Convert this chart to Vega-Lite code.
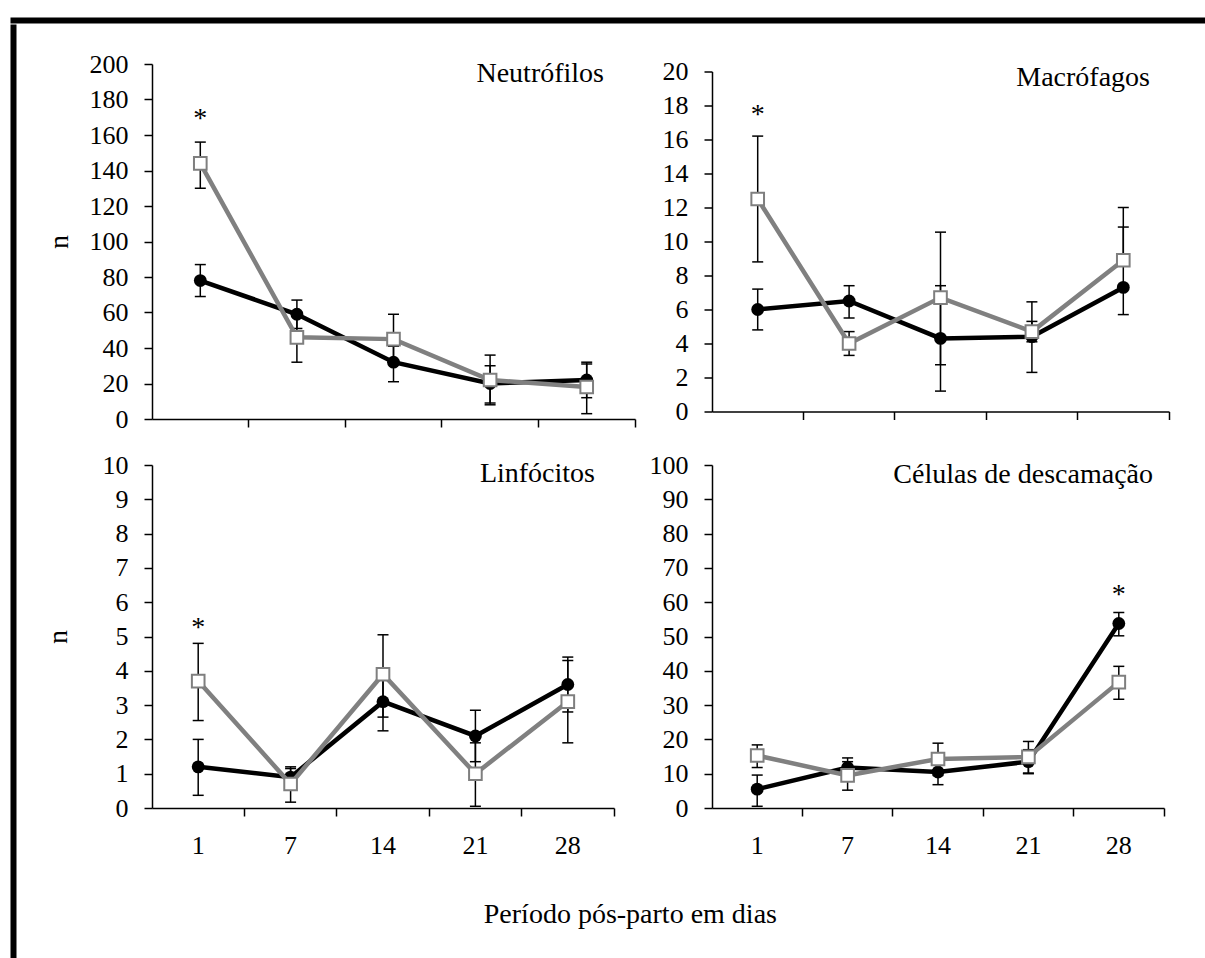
{
  "$schema": "https://vega.github.io/schema/vega-lite/v6.json",
  "background": "white",
  "padding": {"left": 10, "top": 17, "right": 0, "bottom": 0},
  "config": {
    "view": {"stroke": null},
    "font": "Liberation Serif",
    "axis": {"domainColor": "black", "domainWidth": 1.5, "tickColor": "black", "tickWidth": 1.5, "tickSize": 8, "labelFont": "Liberation Serif", "labelFontSize": 26, "labelColor": "black", "labelPadding": 16, "grid": false, "titleFont": "Liberation Serif", "titleFontSize": 28, "titleFontWeight": "normal", "titleColor": "black", "labelOverlap": false},
    "title": {"font": "Liberation Serif", "fontWeight": "normal", "color": "black", "fontSize": 28}
  },
  "datasets": {
    "medidas": [
      {"painel": "Neutrófilos", "grupo": "A", "dia": 1, "media": 78, "inf": 69, "sup": 87},
      {"painel": "Neutrófilos", "grupo": "A", "dia": 7, "media": 59, "inf": 51, "sup": 67},
      {"painel": "Neutrófilos", "grupo": "A", "dia": 14, "media": 32, "inf": 21, "sup": 41},
      {"painel": "Neutrófilos", "grupo": "A", "dia": 21, "media": 20, "inf": 9, "sup": 30},
      {"painel": "Neutrófilos", "grupo": "A", "dia": 28, "media": 22, "inf": 12, "sup": 31},
      {"painel": "Neutrófilos", "grupo": "B", "dia": 1, "media": 144, "inf": 130, "sup": 156},
      {"painel": "Neutrófilos", "grupo": "B", "dia": 7, "media": 46, "inf": 32, "sup": 60},
      {"painel": "Neutrófilos", "grupo": "B", "dia": 14, "media": 45, "inf": 31, "sup": 59},
      {"painel": "Neutrófilos", "grupo": "B", "dia": 21, "media": 22, "inf": 8, "sup": 36},
      {"painel": "Neutrófilos", "grupo": "B", "dia": 28, "media": 18, "inf": 3, "sup": 32},
      {"painel": "Macrófagos", "grupo": "A", "dia": 1, "media": 6.0, "inf": 4.8, "sup": 7.2},
      {"painel": "Macrófagos", "grupo": "A", "dia": 7, "media": 6.5, "inf": 5.5, "sup": 7.4},
      {"painel": "Macrófagos", "grupo": "A", "dia": 14, "media": 4.3, "inf": 1.2, "sup": 7.4},
      {"painel": "Macrófagos", "grupo": "A", "dia": 21, "media": 4.4, "inf": 2.3, "sup": 6.45},
      {"painel": "Macrófagos", "grupo": "A", "dia": 28, "media": 7.3, "inf": 5.7, "sup": 10.85},
      {"painel": "Macrófagos", "grupo": "B", "dia": 1, "media": 12.5, "inf": 8.8, "sup": 16.2},
      {"painel": "Macrófagos", "grupo": "B", "dia": 7, "media": 4.0, "inf": 3.3, "sup": 4.7},
      {"painel": "Macrófagos", "grupo": "B", "dia": 14, "media": 6.7, "inf": 2.75, "sup": 10.55},
      {"painel": "Macrófagos", "grupo": "B", "dia": 21, "media": 4.7, "inf": 4.1, "sup": 5.3},
      {"painel": "Macrófagos", "grupo": "B", "dia": 28, "media": 8.9, "inf": 8.9, "sup": 12.0},
      {"painel": "Linfócitos", "grupo": "A", "dia": 1, "media": 1.2, "inf": 0.37, "sup": 2.0},
      {"painel": "Linfócitos", "grupo": "A", "dia": 7, "media": 0.9, "inf": 0.6, "sup": 1.2},
      {"painel": "Linfócitos", "grupo": "A", "dia": 14, "media": 3.1, "inf": 2.25, "sup": 3.95},
      {"painel": "Linfócitos", "grupo": "A", "dia": 21, "media": 2.1, "inf": 1.35, "sup": 2.85},
      {"painel": "Linfócitos", "grupo": "A", "dia": 28, "media": 3.6, "inf": 2.8, "sup": 4.4},
      {"painel": "Linfócitos", "grupo": "B", "dia": 1, "media": 3.7, "inf": 2.55, "sup": 4.8},
      {"painel": "Linfócitos", "grupo": "B", "dia": 7, "media": 0.7, "inf": 0.17, "sup": 1.15},
      {"painel": "Linfócitos", "grupo": "B", "dia": 14, "media": 3.9, "inf": 2.65, "sup": 5.05},
      {"painel": "Linfócitos", "grupo": "B", "dia": 21, "media": 1.0, "inf": 0.05, "sup": 1.9},
      {"painel": "Linfócitos", "grupo": "B", "dia": 28, "media": 3.1, "inf": 1.9, "sup": 4.3},
      {"painel": "Células", "grupo": "A", "dia": 1, "media": 5.5, "inf": 0.5, "sup": 9.6},
      {"painel": "Células", "grupo": "A", "dia": 7, "media": 11.8, "inf": 9.0, "sup": 14.6},
      {"painel": "Células", "grupo": "A", "dia": 14, "media": 10.5, "inf": 6.8, "sup": 14.0},
      {"painel": "Células", "grupo": "A", "dia": 21, "media": 13.5, "inf": 10.0, "sup": 17.0},
      {"painel": "Células", "grupo": "A", "dia": 28, "media": 53.8, "inf": 50.2, "sup": 57.0},
      {"painel": "Células", "grupo": "B", "dia": 1, "media": 15.3, "inf": 11.8, "sup": 18.4},
      {"painel": "Células", "grupo": "B", "dia": 7, "media": 9.5, "inf": 5.2, "sup": 13.5},
      {"painel": "Células", "grupo": "B", "dia": 14, "media": 14.3, "inf": 9.5, "sup": 18.9},
      {"painel": "Células", "grupo": "B", "dia": 21, "media": 14.9, "inf": 10.2, "sup": 19.4},
      {"painel": "Células", "grupo": "B", "dia": 28, "media": 36.7, "inf": 31.7, "sup": 41.3}
    ],
    "asteriscos": [
      {"painel": "Neutrófilos", "dia": 1, "y": 169, "sig": "*"},
      {"painel": "Macrófagos", "dia": 1, "y": 17.45, "sig": "*"},
      {"painel": "Linfócitos", "dia": 1, "y": 5.25, "sig": "*"},
      {"painel": "Células", "dia": 28, "y": 62.1, "sig": "*"}
    ]
  },
  "spacing": 0,
  "vconcat": [
    {"width": 1190, "height": 1, "data": {"values": []}, "mark": "point", "view": {"stroke": "black", "strokeWidth": 5}},
    {
      "spacing": 27,
      "hconcat": [
        {"width": 1, "height": 930, "data": {"values": []}, "mark": "point", "view": {"stroke": "black", "strokeWidth": 5}},
        {
          "spacing": 20,
          "vconcat": [
            {"width": 1, "height": 4, "data": {"values": []}, "mark": "point"},
            {
              "spacing": 26,
              "center": true,
              "hconcat": [
                {
                  "width": 483, "height": 355,
                  "data": {"name": "medidas"},
                  "transform": [{"filter": "datum.painel === 'Neutrófilos'"}],
                  "title": {"text": "Neutrófilos", "anchor": "end", "frame": "group", "baseline": "top", "offset": -37, "dx": -31},
                  "encoding": {"x": {"field": "dia", "type": "ordinal", "scale": {"type": "band", "domain": [1, 7, 14, 21, 28], "paddingInner": 0, "paddingOuter": 0}, "axis": {"labels": false, "title": null, "bandPosition": 1}}},
                  "layer": [
                    {"mark": {"type": "rule", "color": "black", "strokeWidth": 1.5}, "encoding": {"y": {"field": "inf", "type": "quantitative", "title": "n", "scale": {"domain": [0, 200], "nice": false}, "axis": {"values": [0, 20, 40, 60, 80, 100, 120, 140, 160, 180, 200], "titlePadding": 16}}, "y2": {"field": "sup"}}},
                    {"mark": {"type": "tick", "color": "black", "thickness": 1.5, "size": 11, "opacity": 1}, "encoding": {"y": {"field": "inf", "type": "quantitative", "title": "n", "axis": {"values": [0, 20, 40, 60, 80, 100, 120, 140, 160, 180, 200], "titlePadding": 16}}}},
                    {"mark": {"type": "tick", "color": "black", "thickness": 1.5, "size": 11, "opacity": 1}, "encoding": {"y": {"field": "sup", "type": "quantitative", "title": "n", "axis": {"values": [0, 20, 40, 60, 80, 100, 120, 140, 160, 180, 200], "titlePadding": 16}}}},
                    {"transform": [{"filter": "datum.grupo === 'A'"}], "mark": {"type": "line", "color": "black", "strokeWidth": 4.5}, "encoding": {"y": {"field": "media", "type": "quantitative", "title": "n", "axis": {"values": [0, 20, 40, 60, 80, 100, 120, 140, 160, 180, 200], "titlePadding": 16}}}},
                    {"transform": [{"filter": "datum.grupo === 'A'"}], "mark": {"type": "point", "shape": "circle", "filled": true, "color": "black", "size": 165, "opacity": 1}, "encoding": {"y": {"field": "media", "type": "quantitative", "title": "n", "axis": {"values": [0, 20, 40, 60, 80, 100, 120, 140, 160, 180, 200], "titlePadding": 16}}}},
                    {"transform": [{"filter": "datum.grupo === 'B'"}], "mark": {"type": "line", "color": "#808080", "strokeWidth": 4.5}, "encoding": {"y": {"field": "media", "type": "quantitative", "title": "n", "axis": {"values": [0, 20, 40, 60, 80, 100, 120, 140, 160, 180, 200], "titlePadding": 16}}}},
                    {"transform": [{"filter": "datum.grupo === 'B'"}], "mark": {"type": "point", "shape": "square", "filled": true, "fill": "white", "stroke": "#7f7f7f", "strokeWidth": 2, "size": 160, "opacity": 1}, "encoding": {"y": {"field": "media", "type": "quantitative", "title": "n", "axis": {"values": [0, 20, 40, 60, 80, 100, 120, 140, 160, 180, 200], "titlePadding": 16}}}},
                    {"data": {"name": "asteriscos"}, "transform": [{"filter": "datum.painel === 'Neutrófilos'"}], "mark": {"type": "text", "fontSize": 28, "baseline": "middle", "color": "black"}, "encoding": {"y": {"field": "y", "type": "quantitative", "title": "n", "axis": {"values": [0, 20, 40, 60, 80, 100, 120, 140, 160, 180, 200], "titlePadding": 16}}, "text": {"field": "sig"}}}
                  ]
                },
                {
                  "width": 457, "height": 340,
                  "data": {"name": "medidas"},
                  "transform": [{"filter": "datum.painel === 'Macrófagos'"}],
                  "title": {"text": "Macrófagos", "anchor": "end", "frame": "group", "baseline": "top", "offset": -33, "dx": -19},
                  "encoding": {"x": {"field": "dia", "type": "ordinal", "scale": {"type": "band", "domain": [1, 7, 14, 21, 28], "paddingInner": 0, "paddingOuter": 0}, "axis": {"labels": false, "title": null, "bandPosition": 1}}},
                  "layer": [
                    {"mark": {"type": "rule", "color": "black", "strokeWidth": 1.5}, "encoding": {"y": {"field": "inf", "type": "quantitative", "title": null, "scale": {"domain": [0, 20], "nice": false}, "axis": {"values": [0, 2, 4, 6, 8, 10, 12, 14, 16, 18, 20]}}, "y2": {"field": "sup"}}},
                    {"mark": {"type": "tick", "color": "black", "thickness": 1.5, "size": 11, "opacity": 1}, "encoding": {"y": {"field": "inf", "type": "quantitative", "title": null, "axis": {"values": [0, 2, 4, 6, 8, 10, 12, 14, 16, 18, 20]}}}},
                    {"mark": {"type": "tick", "color": "black", "thickness": 1.5, "size": 11, "opacity": 1}, "encoding": {"y": {"field": "sup", "type": "quantitative", "title": null, "axis": {"values": [0, 2, 4, 6, 8, 10, 12, 14, 16, 18, 20]}}}},
                    {"transform": [{"filter": "datum.grupo === 'A'"}], "mark": {"type": "line", "color": "black", "strokeWidth": 4.5}, "encoding": {"y": {"field": "media", "type": "quantitative", "title": null, "axis": {"values": [0, 2, 4, 6, 8, 10, 12, 14, 16, 18, 20]}}}},
                    {"transform": [{"filter": "datum.grupo === 'A'"}], "mark": {"type": "point", "shape": "circle", "filled": true, "color": "black", "size": 165, "opacity": 1}, "encoding": {"y": {"field": "media", "type": "quantitative", "title": null, "axis": {"values": [0, 2, 4, 6, 8, 10, 12, 14, 16, 18, 20]}}}},
                    {"transform": [{"filter": "datum.grupo === 'B'"}], "mark": {"type": "line", "color": "#808080", "strokeWidth": 4.5}, "encoding": {"y": {"field": "media", "type": "quantitative", "title": null, "axis": {"values": [0, 2, 4, 6, 8, 10, 12, 14, 16, 18, 20]}}}},
                    {"transform": [{"filter": "datum.grupo === 'B'"}], "mark": {"type": "point", "shape": "square", "filled": true, "fill": "white", "stroke": "#7f7f7f", "strokeWidth": 2, "size": 160, "opacity": 1}, "encoding": {"y": {"field": "media", "type": "quantitative", "title": null, "axis": {"values": [0, 2, 4, 6, 8, 10, 12, 14, 16, 18, 20]}}}},
                    {"data": {"name": "asteriscos"}, "transform": [{"filter": "datum.painel === 'Macrófagos'"}], "mark": {"type": "text", "fontSize": 28, "baseline": "middle", "color": "black"}, "encoding": {"y": {"field": "y", "type": "quantitative", "title": null, "axis": {"values": [0, 2, 4, 6, 8, 10, 12, 14, 16, 18, 20]}}, "text": {"field": "sig"}}}
                  ]
                }
              ]
            },
            {
              "spacing": 34,
              "title": {"text": "Período pós-parto em dias", "orient": "bottom", "anchor": "middle", "offset": 43, "dx": 26},
              "hconcat": [
                {
                  "width": 462, "height": 343,
                  "data": {"name": "medidas"},
                  "transform": [{"filter": "datum.painel === 'Linfócitos'"}],
                  "title": {"text": "Linfócitos", "anchor": "end", "frame": "group", "baseline": "top", "offset": -36, "dx": -19},
                  "encoding": {"x": {"field": "dia", "type": "ordinal", "scale": {"type": "band", "domain": [1, 7, 14, 21, 28], "paddingInner": 0, "paddingOuter": 0}, "axis": {"title": null, "bandPosition": 1, "labelAngle": 0, "labelPadding": 16}}},
                  "layer": [
                    {"mark": {"type": "rule", "color": "black", "strokeWidth": 1.5}, "encoding": {"y": {"field": "inf", "type": "quantitative", "title": "n", "scale": {"domain": [0, 10], "nice": false}, "axis": {"values": [0, 1, 2, 3, 4, 5, 6, 7, 8, 9, 10], "titlePadding": 30}}, "y2": {"field": "sup"}}},
                    {"mark": {"type": "tick", "color": "black", "thickness": 1.5, "size": 11, "opacity": 1}, "encoding": {"y": {"field": "inf", "type": "quantitative", "title": "n", "axis": {"values": [0, 1, 2, 3, 4, 5, 6, 7, 8, 9, 10], "titlePadding": 30}}}},
                    {"mark": {"type": "tick", "color": "black", "thickness": 1.5, "size": 11, "opacity": 1}, "encoding": {"y": {"field": "sup", "type": "quantitative", "title": "n", "axis": {"values": [0, 1, 2, 3, 4, 5, 6, 7, 8, 9, 10], "titlePadding": 30}}}},
                    {"transform": [{"filter": "datum.grupo === 'A'"}], "mark": {"type": "line", "color": "black", "strokeWidth": 4.5}, "encoding": {"y": {"field": "media", "type": "quantitative", "title": "n", "axis": {"values": [0, 1, 2, 3, 4, 5, 6, 7, 8, 9, 10], "titlePadding": 30}}}},
                    {"transform": [{"filter": "datum.grupo === 'A'"}], "mark": {"type": "point", "shape": "circle", "filled": true, "color": "black", "size": 165, "opacity": 1}, "encoding": {"y": {"field": "media", "type": "quantitative", "title": "n", "axis": {"values": [0, 1, 2, 3, 4, 5, 6, 7, 8, 9, 10], "titlePadding": 30}}}},
                    {"transform": [{"filter": "datum.grupo === 'B'"}], "mark": {"type": "line", "color": "#808080", "strokeWidth": 4.5}, "encoding": {"y": {"field": "media", "type": "quantitative", "title": "n", "axis": {"values": [0, 1, 2, 3, 4, 5, 6, 7, 8, 9, 10], "titlePadding": 30}}}},
                    {"transform": [{"filter": "datum.grupo === 'B'"}], "mark": {"type": "point", "shape": "square", "filled": true, "fill": "white", "stroke": "#7f7f7f", "strokeWidth": 2, "size": 160, "opacity": 1}, "encoding": {"y": {"field": "media", "type": "quantitative", "title": "n", "axis": {"values": [0, 1, 2, 3, 4, 5, 6, 7, 8, 9, 10], "titlePadding": 30}}}},
                    {"data": {"name": "asteriscos"}, "transform": [{"filter": "datum.painel === 'Linfócitos'"}], "mark": {"type": "text", "fontSize": 28, "baseline": "middle", "color": "black"}, "encoding": {"y": {"field": "y", "type": "quantitative", "title": "n", "axis": {"values": [0, 1, 2, 3, 4, 5, 6, 7, 8, 9, 10], "titlePadding": 30}}, "text": {"field": "sig"}}}
                  ]
                },
                {
                  "width": 452, "height": 343,
                  "data": {"name": "medidas"},
                  "transform": [{"filter": "datum.painel === 'Células'"}],
                  "title": {"text": "Células de descamação", "anchor": "end", "frame": "group", "baseline": "top", "offset": -37, "dx": -11},
                  "encoding": {"x": {"field": "dia", "type": "ordinal", "scale": {"type": "band", "domain": [1, 7, 14, 21, 28], "paddingInner": 0, "paddingOuter": 0}, "axis": {"title": null, "bandPosition": 1, "labelAngle": 0, "labelPadding": 16}}},
                  "layer": [
                    {"mark": {"type": "rule", "color": "black", "strokeWidth": 1.5}, "encoding": {"y": {"field": "inf", "type": "quantitative", "title": null, "scale": {"domain": [0, 100], "nice": false}, "axis": {"values": [0, 10, 20, 30, 40, 50, 60, 70, 80, 90, 100]}}, "y2": {"field": "sup"}}},
                    {"mark": {"type": "tick", "color": "black", "thickness": 1.5, "size": 11, "opacity": 1}, "encoding": {"y": {"field": "inf", "type": "quantitative", "title": null, "axis": {"values": [0, 10, 20, 30, 40, 50, 60, 70, 80, 90, 100]}}}},
                    {"mark": {"type": "tick", "color": "black", "thickness": 1.5, "size": 11, "opacity": 1}, "encoding": {"y": {"field": "sup", "type": "quantitative", "title": null, "axis": {"values": [0, 10, 20, 30, 40, 50, 60, 70, 80, 90, 100]}}}},
                    {"transform": [{"filter": "datum.grupo === 'A'"}], "mark": {"type": "line", "color": "black", "strokeWidth": 4.5}, "encoding": {"y": {"field": "media", "type": "quantitative", "title": null, "axis": {"values": [0, 10, 20, 30, 40, 50, 60, 70, 80, 90, 100]}}}},
                    {"transform": [{"filter": "datum.grupo === 'A'"}], "mark": {"type": "point", "shape": "circle", "filled": true, "color": "black", "size": 165, "opacity": 1}, "encoding": {"y": {"field": "media", "type": "quantitative", "title": null, "axis": {"values": [0, 10, 20, 30, 40, 50, 60, 70, 80, 90, 100]}}}},
                    {"transform": [{"filter": "datum.grupo === 'B'"}], "mark": {"type": "line", "color": "#808080", "strokeWidth": 4.5}, "encoding": {"y": {"field": "media", "type": "quantitative", "title": null, "axis": {"values": [0, 10, 20, 30, 40, 50, 60, 70, 80, 90, 100]}}}},
                    {"transform": [{"filter": "datum.grupo === 'B'"}], "mark": {"type": "point", "shape": "square", "filled": true, "fill": "white", "stroke": "#7f7f7f", "strokeWidth": 2, "size": 160, "opacity": 1}, "encoding": {"y": {"field": "media", "type": "quantitative", "title": null, "axis": {"values": [0, 10, 20, 30, 40, 50, 60, 70, 80, 90, 100]}}}},
                    {"data": {"name": "asteriscos"}, "transform": [{"filter": "datum.painel === 'Células'"}], "mark": {"type": "text", "fontSize": 28, "baseline": "middle", "color": "black"}, "encoding": {"y": {"field": "y", "type": "quantitative", "title": null, "axis": {"values": [0, 10, 20, 30, 40, 50, 60, 70, 80, 90, 100]}}, "text": {"field": "sig"}}}
                  ]
                }
              ]
            }
          ]
        }
      ]
    }
  ]
}
